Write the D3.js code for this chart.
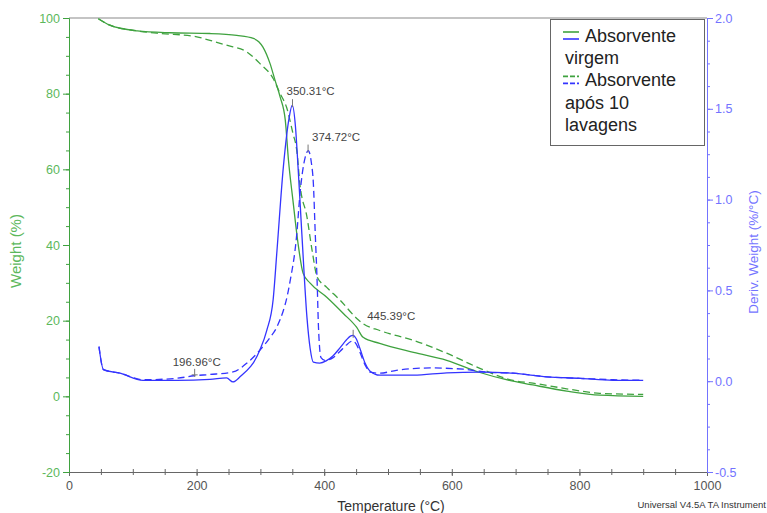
<!DOCTYPE html>
<html>
<head>
<meta charset="utf-8">
<script src="https://cdn.jsdelivr.net/npm/d3@7"></script>
<style>
  body { margin: 0; background: #fff; }
  svg { font-family: "Liberation Sans", Arial, sans-serif; }
</style>
</head>
<body>
<div id="plot"></div>
<script>
// TGA weight (%) - absorvente virgem
var tgaVirgemT = [46, 64, 107, 158, 221, 263, 289, 304, 315, 323, 331, 339, 344, 351, 359, 367, 378, 404, 430, 451, 461, 487, 540, 592, 644, 696, 727, 780, 832, 900];
var tgaVirgemW = [99.8, 98.1, 96.6, 96.1, 95.9, 95.4, 94.6, 92.3, 88, 83.5, 79.1, 73, 62.4, 51.8, 40.4, 32.5, 29.9, 26.2, 21.9, 18.2, 15.6, 14, 11.6, 9.5, 6.3, 4, 3.0, 1.4, 0.3, 0];

// TGA weight (%) - absorvente apos 10 lavagens
var tgaLavT = [46, 64, 107, 143, 195, 221, 247, 279, 299, 320, 331, 341, 351, 357, 362, 373, 381, 389, 404, 425, 451, 461, 487, 540, 592, 644, 696, 727, 780, 832, 900];
var tgaLavW = [99.8, 98.1, 96.6, 95.9, 95.2, 94.1, 92.8, 91, 88, 84, 80, 76.4, 69.5, 65, 56, 47.4, 38.6, 31.5, 28.8, 25.4, 20.6, 19.2, 17.4, 14.8, 11.4, 7.4, 4.2, 3.5, 2, 0.8, 0.5];

// DTG deriv. weight (%/°C) - virgem
var dtgVirgemT = [47, 54, 80, 116, 169, 221, 247, 257, 268, 299, 310, 320, 326, 336, 345, 350, 355, 359, 365, 373, 378, 383, 393, 403, 414, 425, 435, 441, 445, 450, 456, 464, 472, 487, 540, 592, 644, 696, 749, 801, 853, 900];
var dtgVirgemD = [0.19, 0.064, 0.044, 0.005, 0.005, 0.01, 0.018, -0.004, 0.024, 0.17, 0.28, 0.45, 0.72, 1.18, 1.45, 1.52, 1.40, 1.18, 0.81, 0.35, 0.18, 0.105, 0.1, 0.112, 0.14, 0.185, 0.228, 0.248, 0.252, 0.235, 0.18, 0.1, 0.055, 0.033, 0.033, 0.046, 0.05, 0.044, 0.024, 0.016, 0.005, 0.005];

// DTG deriv. weight (%/°C) - apos 10 lavagens
var dtgLavT = [47, 54, 80, 116, 169, 196, 221, 257, 279, 299, 315, 326, 346, 357, 362, 370, 375, 380, 383, 386, 389, 391, 395, 401, 414, 425, 435, 441, 445, 450, 456, 464, 472, 487, 513, 566, 618, 655, 696, 749, 801, 853, 900];
var dtgLavD = [0.19, 0.064, 0.044, 0.008, 0.016, 0.03, 0.037, 0.051, 0.1, 0.17, 0.24, 0.3, 0.54, 0.81, 1.03, 1.23, 1.27, 1.2, 1.09, 0.81, 0.54, 0.3, 0.13, 0.115, 0.13, 0.165, 0.2, 0.217, 0.222, 0.205, 0.16, 0.09, 0.05, 0.044, 0.06, 0.073, 0.066, 0.05, 0.044, 0.024, 0.016, 0.008, 0.005];

// peak annotations
var peakTemps = [196.96, 350.31, 374.72, 445.39];
var peakDerivs = [0.035, 1.52, 1.27, 0.25];

// tick labels
var xTicks = [0, 200, 400, 600, 800, 1000];
var yLeftTicks = [-20, 0, 20, 40, 60, 80, 100];
var yRightTicks = [-0.5, 0.0, 0.5, 1.0, 1.5, 2.0];

var legendLabels = [["Absorvente", "virgem"], ["Absorvente", "após 10", "lavagens"]];

var green = "#3fa23f", blue = "#3434ff";
var greenText = "#5cb85c", blueText = "#7373ff";

var svgW = 767, svgH = 513;
var padL = 69, padR = 707, padT = 18, padB = 472;

var svg = d3.select("#plot").append("svg")
  .attr("width", svgW)
  .attr("height", svgH);

var x = d3.scaleLinear().domain([0, 1000]).range([padL, padR]);
var yL = d3.scaleLinear().domain([-20, 100]).range([padB, padT]);
var yR = d3.scaleLinear().domain([-0.5, 2]).range([padB, padT]);

// top border
svg.append("line")
  .attr("x1", padL).attr("x2", padR)
  .attr("y1", padT).attr("y2", padT)
  .attr("stroke", "#8a8a8a").attr("stroke-width", 1.2);

// bottom axis: ticks every 50 crossing the line, labels every 200
svg.append("g")
  .attr("transform", "translate(0," + padB + ")")
  .call(d3.axisBottom(x).tickValues(d3.range(0, 1001, 50)).tickSize(3).tickFormat(""))
  .call(function(g) { g.selectAll("line,path").attr("stroke", "#666"); });
svg.append("g")
  .attr("transform", "translate(0," + padB + ")")
  .call(d3.axisTop(x).tickValues(d3.range(0, 1001, 50)).tickSize(3).tickFormat(""))
  .call(function(g) { g.selectAll("line,path").attr("stroke", "#666"); });
var xAx = svg.append("g")
  .attr("transform", "translate(0," + padB + ")")
  .call(d3.axisBottom(x).tickValues(xTicks).tickSize(4).tickPadding(5).tickFormat(function(d) { return d; }));
xAx.select(".domain").remove();
xAx.selectAll("line").attr("stroke", "#666");
xAx.selectAll("text").attr("fill", "#555").attr("font-size", 12.5);

// left axis (weight)
svg.append("g")
  .attr("transform", "translate(" + padL + ",0)")
  .call(d3.axisLeft(yL).tickValues(d3.range(-20, 101, 5)).tickSize(3).tickFormat(""))
  .call(function(g) { g.selectAll("line,path").attr("stroke", green); });
var yAx = svg.append("g")
  .attr("transform", "translate(" + padL + ",0)")
  .call(d3.axisLeft(yL).tickValues(yLeftTicks).tickSize(6).tickPadding(3).tickFormat(function(d) { return String(d); }));
yAx.select(".domain").remove();
yAx.selectAll("line").attr("stroke", green);
yAx.selectAll("text").attr("fill", greenText).attr("font-size", 12.5);

// right axis (deriv. weight)
svg.append("g")
  .attr("transform", "translate(" + padR + ",0)")
  .call(d3.axisRight(yR).tickValues(d3.range(-0.5, 2.01, 0.125)).tickSize(3).tickFormat(""))
  .call(function(g) { g.selectAll("line,path").attr("stroke", blueText); });
var yrAx = svg.append("g")
  .attr("transform", "translate(" + padR + ",0)")
  .call(d3.axisRight(yR).tickValues(yRightTicks).tickSize(6).tickPadding(2).tickFormat(function(d) { return d.toFixed(1); }));
yrAx.select(".domain").remove();
yrAx.selectAll("line").attr("stroke", blueText);
yrAx.selectAll("text").attr("fill", blueText).attr("font-size", 12.5);

// axis titles
svg.append("text")
  .attr("text-anchor", "middle")
  .attr("transform", "translate(21,251)rotate(-90)")
  .attr("fill", greenText).attr("font-size", 15)
  .text("Weight (%)");
svg.append("text")
  .attr("text-anchor", "middle")
  .attr("transform", "translate(758,252)rotate(-90)")
  .attr("fill", blueText).attr("font-size", 13.5)
  .text("Deriv. Weight (%/°C)");
svg.append("text")
  .attr("text-anchor", "middle")
  .attr("x", 391).attr("y", 511)
  .attr("fill", "#333").attr("font-size", 14)
  .text("Temperature (°C)");
svg.append("text")
  .attr("text-anchor", "end")
  .attr("x", 766).attr("y", 508)
  .attr("fill", "#333").attr("font-size", 9.5)
  .text("Universal V4.5A TA Instrument");

// curves
function drawCurve(ts, vs, scaleY, color, dash) {
  var line = d3.line()
    .x(function(d) { return x(d[0]); })
    .y(function(d) { return scaleY(d[1]); })
    .curve(d3.curveMonotoneX);
  svg.append("path")
    .datum(d3.zip(ts, vs))
    .attr("d", line)
    .attr("fill", "none")
    .attr("stroke", color)
    .attr("stroke-width", 1.3)
    .attr("stroke-dasharray", dash ? "7,4" : null);
}
drawCurve(tgaVirgemT, tgaVirgemW, yL, green, false);
drawCurve(tgaLavT, tgaLavW, yL, green, true);
drawCurve(dtgVirgemT, dtgVirgemD, yR, blue, false);
drawCurve(dtgLavT, dtgLavD, yR, blue, true);

// peak markers and labels
var labelOffsets = [[-22, -7], [-6, -8], [4, -8], [14, -14]];
peakTemps.forEach(function(t, i) {
  var px = x(t), py = yR(peakDerivs[i]);
  svg.append("line")
    .attr("x1", px).attr("x2", px)
    .attr("y1", py - 6).attr("y2", py + 2)
    .attr("stroke", "#777").attr("stroke-width", 1);
  if (i === 0) {
    svg.append("line")
      .attr("x1", px - 3).attr("x2", px + 3)
      .attr("y1", py).attr("y2", py)
      .attr("stroke", "#777").attr("stroke-width", 1);
  }
  svg.append("text")
    .attr("x", px + labelOffsets[i][0])
    .attr("y", py - 6 + labelOffsets[i][1] + 4)
    .attr("fill", "#444").attr("font-size", 11.5)
    .text(t.toFixed(2) + "°C");
});

// legend
var lg = svg.append("g");
lg.append("rect")
  .attr("x", 550.5).attr("y", 19.5)
  .attr("width", 154).attr("height", 126)
  .attr("fill", "#fff").attr("stroke", "#666").attr("stroke-width", 1);
var row = 0;
legendLabels.forEach(function(lines, i) {
  lines.forEach(function(s, j) {
    var by = 42 + row * 22.2;
    lg.append("text")
      .attr("x", j === 0 ? 585 : 565).attr("y", by)
      .attr("fill", "#222").attr("font-size", 18)
      .text(s);
    if (j === 0) {
      [green, blue].forEach(function(c, k) {
        lg.append("line")
          .attr("x1", 563).attr("x2", 579)
          .attr("y1", by - 10 + k * 7).attr("y2", by - 10 + k * 7)
          .attr("stroke", c).attr("stroke-width", 1.6)
          .attr("stroke-dasharray", i === 1 ? "5,2" : null);
      });
    }
    row++;
  });
});
</script>
</body>
</html>
